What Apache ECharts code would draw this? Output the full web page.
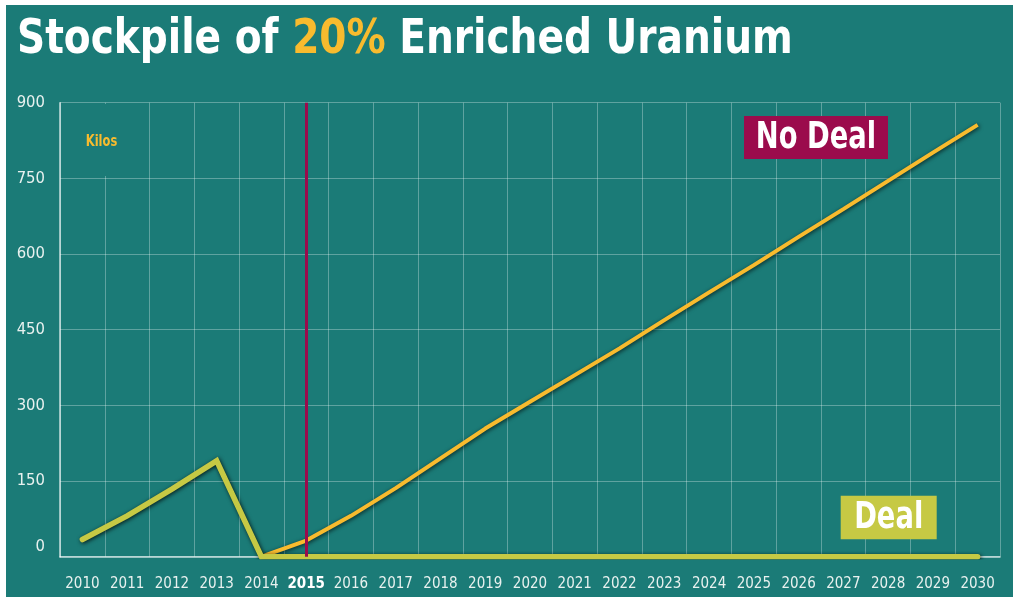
<!DOCTYPE html>
<html>
<head>
<meta charset="utf-8">
<script src="https://cdn.jsdelivr.net/npm/echarts@6/dist/echarts.min.js"></script>
<style>
html,body{margin:0;padding:0;background:#fff;width:1013px;height:597px;overflow:hidden;}
#c{position:absolute;left:6px;top:5px;width:1007px;height:592px;}
</style>
</head>
<body>
<div id="c"></div>
<script>
const years = ['2010','2011','2012','2013','2014','2015','2016','2017','2018','2019','2020','2021','2022','2023','2024','2025','2026','2027','2028','2029','2030'];
const dealValues = [34,81,134,190,0,0,0,0,0,0,0,0,0,0,0,0,0,0,0,0,0];
const noDealValues = [null,null,null,null,0,32,81,136,195,254,307,360,413,469,524,578,634,689,745,801,856];
const yTicks = [0,150,300,450,600,750,900];
const markYear = '2015';

const FONT = '"DejaVu Sans Condensed","Liberation Sans Narrow",sans-serif';
const BG = '#1b7b77';
const GOLD = '#f8bb2e';
const DEAL = '#c6c944';
const MAGENTA = '#9b0b4c';

const chart = echarts.init(document.getElementById('c'));
chart.setOption({
  backgroundColor: BG,
  animation: false,
  grid: {left: 54, top: 97.7, right: 13, bottom: 40.3, containLabel: false},
  xAxis: {
    type: 'category',
    data: years,
    boundaryGap: true,
    axisTick: {show: false},
    axisLine: {show: true, lineStyle: {color: 'rgba(255,255,255,0.75)', width: 1.5}},
    splitLine: {show: true, lineStyle: {color: 'rgba(255,255,255,0.3)', width: 1}},
    axisLabel: {
      interval: 0,
      margin: 20,
      fontFamily: FONT, fontSize: 15, color: '#e8f1ef',
      formatter: function (v) { return v === markYear ? '{b|' + v + '}' : v; },
      rich: {b: {fontFamily: FONT, fontSize: 15, fontWeight: 'bold', color: '#ffffff'}}
    }
  },
  yAxis: {
    type: 'value',
    min: yTicks[0], max: yTicks[yTicks.length - 1], interval: yTicks[1] - yTicks[0],
    axisTick: {show: false},
    axisLine: {show: true, lineStyle: {color: 'rgba(255,255,255,0.75)', width: 1.5}},
    splitLine: {show: true, lineStyle: {color: 'rgba(255,255,255,0.3)', width: 1}},
    axisLabel: {
      margin: 15,
      fontFamily: FONT, fontSize: 16.5, color: '#e8f1ef',
      formatter: function (v) { return v === 0 ? '{z|0}' : String(v); },
      rich: {z: {fontFamily: FONT, fontSize: 16.5, color: '#e8f1ef', padding: [0, 0, 20, 0]}}
    }
  },
  series: [
    {
      name: 'marker', type: 'line', data: [], z: 1, silent: true,
      markLine: {
        silent: true, symbol: ['none', 'none'],
        label: {show: false},
        lineStyle: {color: MAGENTA, width: 3, type: 'solid'},
        data: [{xAxis: markYear}]
      }
    },
    {
      name: 'No Deal', type: 'line', data: noDealValues, z: 3,
      showSymbol: false, smooth: false, connectNulls: false,
      lineStyle: {color: GOLD, width: 4, shadowColor: 'rgba(0,0,0,0.7)', shadowBlur: 4, shadowOffsetX: 1, shadowOffsetY: 1}
    },
    {
      name: 'Deal', type: 'line', data: dealValues, z: 4,
      showSymbol: false, smooth: false,
      lineStyle: {color: DEAL, width: 5.5, cap: 'round', join: 'miter', shadowColor: 'rgba(0,0,0,0.8)', shadowBlur: 4, shadowOffsetX: 1, shadowOffsetY: 1}
    }
  ],
  graphic: [
    {type: 'rect', z: 50, shape: {x: 56, y: 99, width: 84, height: 72}, style: {fill: BG}},
    {type: 'text', z: 51, x: 95.5, y: 137, scaleX: 0.85, style: {text: 'Kilos', fill: GOLD, font: 'bold 15px ' + FONT, textAlign: 'center', textVerticalAlign: 'middle'}},
    {type: 'text', z: 51, x: 11, y: 36, scaleX: 0.905, style: {
      text: '{w|Stockpile of }{g|20%}{w| Enriched Uranium}',
      textVerticalAlign: 'middle',
      rich: {
        w: {fontFamily: FONT, fontSize: 48, fontWeight: 'bold', fill: '#ffffff', color: '#ffffff'},
        g: {fontFamily: FONT, fontSize: 48, fontWeight: 'bold', fill: GOLD, color: GOLD}
      }
    }},
    {type: 'rect', z: 50, shape: {x: 738, y: 111, width: 144, height: 43}, style: {fill: MAGENTA}},
    {type: 'text', z: 51, x: 810, y: 133, scaleX: 0.8, style: {text: 'No Deal', fill: '#ffffff', font: 'bold 38px ' + FONT, textAlign: 'center', textVerticalAlign: 'middle'}},
    {type: 'rect', z: 50, shape: {x: 834.7, y: 490.7, width: 96, height: 43.6}, style: {fill: DEAL}},
    {type: 'text', z: 51, x: 882.7, y: 513, scaleX: 0.8, style: {text: 'Deal', fill: '#ffffff', font: 'bold 38px ' + FONT, textAlign: 'center', textVerticalAlign: 'middle'}}
  ]
});
</script>
</body>
</html>
